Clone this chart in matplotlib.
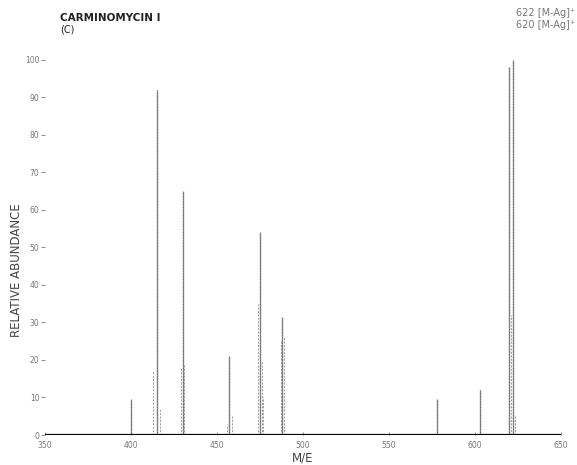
import matplotlib
matplotlib.use("Agg")
import matplotlib.pyplot as plt

# ---- data ----
major_mz = [400, 415, 430, 457, 475, 488, 578, 603, 620, 622]
major_ab = [9.5, 92, 65, 21, 54, 31.5, 9.5, 12, 98, 100]

minor_mz = [413, 417, 429, 431, 456, 459, 474, 476, 477, 487, 489, 621, 623]
minor_ab = [17, 7, 18, 19, 3, 5, 35, 20, 10, 25, 26, 32, 5]

yticks = [0, 10, 20, 30, 40, 50, 60, 70, 80, 90, 100]
xticks = [350, 400, 450, 500, 550, 600, 650]

title_lines = ["CARMINOMYCIN I", "(C)"]
ion_labels = ["622 [M-Ag]⁺", "620 [M-Ag]⁺"]

fig = plt.figure(figsize=(5.77, 4.65), dpi=100)
ax = fig.add_axes([45 / 577, 30 / 465, 516 / 577, 394 / 465])
ax.set_xlim(350, 650)
ax.set_ylim(0, 105)

# peaks
ax.vlines(minor_mz, 0, minor_ab, colors="#999999", linewidth=0.7,
          linestyles=(0, (2, 1.5)))
ax.vlines(major_mz, 0, major_ab, colors="#888888", linewidth=1.0)
ax.vlines(major_mz, 0, major_ab, colors="#444444", linewidth=0.5,
          linestyles=(0, (1, 3)))

# baseline
ax.axhline(0, color="black", linewidth=1.6, xmin=0, xmax=1)

for s in ["top", "right", "left", "bottom"]:
    ax.spines[s].set_visible(False)

ax.set_yticks(yticks)
ax.set_yticklabels([str(v) for v in yticks])
ax.set_xticks(xticks)
ax.set_xticklabels([str(v) for v in xticks])
ax.tick_params(axis="y", direction="out", length=3, width=0.6, colors="#777777",
               labelsize=5.5, pad=1)
ax.tick_params(axis="x", direction="in", length=2, width=0.6, colors="#777777",
               labelsize=5.5, pad=4)

ax.set_xlabel("M/E", fontsize=8.5, color="#444444", va="center")
ax.xaxis.set_label_coords(0.5, -23 / 394)
ax.set_ylabel("RELATIVE ABUNDANCE", fontsize=8.5, color="#444444", va="center")
ax.yaxis.set_label_coords(-28 / 516, (435 - 270) / 394)

fig.text(60 / 577, 1 - 18 / 465, title_lines[0], fontsize=7.5, fontweight="bold",
         color="#222222", va="center", ha="left")
fig.text(60 / 577, 1 - 30 / 465, title_lines[1], fontsize=7, color="#222222",
         va="center", ha="left")

fig.text(575 / 577, 1 - 13 / 465, ion_labels[0], fontsize=7, color="#777777",
         va="center", ha="right")
fig.text(575 / 577, 1 - 25 / 465, ion_labels[1], fontsize=7, color="#777777",
         va="center", ha="right")

fig.savefig("out.png", dpi=100)
